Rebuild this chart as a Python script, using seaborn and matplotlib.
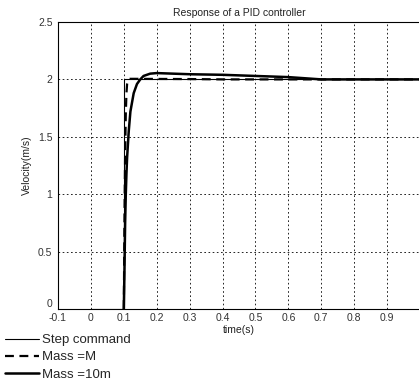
import matplotlib
matplotlib.use("Agg")
import matplotlib.pyplot as plt
import seaborn as sns
import pandas as pd

sns.set_theme(style="white")
plt.rcParams['font.family'] = ['Liberation Sans', 'DejaVu Sans']

# Step command
t_step = [0.0, 0.1, 0.1, 1.0]
y_step = [0.0, 0.0, 2.0, 2.0]

# Mass = M
t_m = [0.1, 0.102, 0.104, 0.106, 0.108, 0.11, 0.113, 0.117, 0.13, 0.2, 0.3, 0.4, 0.6, 1.0]
y_m = [0.0, 0.8, 1.35, 1.7, 1.88, 1.96, 1.995, 2.005, 2.005, 2.004, 2.003, 2.0, 2.0, 2.0]

# Mass = 10m
t_10 = [0.1, 0.102, 0.104, 0.106, 0.108, 0.11, 0.115, 0.12, 0.13, 0.14, 0.15, 0.16, 0.18, 0.2, 0.25, 0.3, 0.4, 0.5, 0.6, 0.65, 0.7, 1.0]
y_10 = [0.0, 0.35, 0.75, 1.0, 1.18, 1.32, 1.55, 1.72, 1.88, 1.96, 2.0, 2.03, 2.05, 2.055, 2.05, 2.045, 2.04, 2.03, 2.02, 2.01, 2.0, 2.0]

x_ticks = [-0.1, 0, 0.1, 0.2, 0.3, 0.4, 0.5, 0.6, 0.7, 0.8, 0.9]
x_labels = ["-0.1", "0", "0.1", "0.2", "0.3", "0.4", "0.5", "0.6", "0.7", "0.8", "0.9"]
y_ticks = [0, 0.5, 1, 1.5, 2, 2.5]
y_labels = ["0", "0.5", "1", "1.5", "2", "2.5"]

fig = plt.figure(figsize=(4.19, 3.89), dpi=100)
ax = fig.add_axes([58/419, 1-309/389, 362/419, (309-22)/389])

sns.lineplot(x=t_step, y=y_step, ax=ax, color="black", linewidth=0.8, sort=False,
             estimator=None, label="Step command")
sns.lineplot(x=t_m, y=y_m, ax=ax, color="black", linewidth=1.6, sort=False,
             estimator=None, label="Mass =M")
ax.lines[-1].set_linestyle((0, (4, 2.5)))
sns.lineplot(x=t_10, y=y_10, ax=ax, color="black", linewidth=1.8, sort=False,
             estimator=None, label="Mass =10m")

ax.set_xlim(-0.1, 1.0)
ax.set_ylim(0, 2.5)
ax.set_xticks(x_ticks)
ax.set_xticklabels(x_labels)
ax.set_yticks(y_ticks)
ax.set_yticklabels(y_labels)
ax.grid(True, color="black", linestyle=(0, (2, 3)), linewidth=0.6)
ax.tick_params(axis="both", labelsize=7.5, colors="#333333", length=0)
ax.tick_params(axis="x", pad=3)
ax.tick_params(axis="y", pad=4)
for lbl in ax.get_yticklabels():
    if lbl.get_text() == "0":
        lbl.set_verticalalignment("bottom")
for s in ["left", "bottom", "top"]:
    ax.spines[s].set_color("black")
    ax.spines[s].set_linewidth(0.8)
ax.spines["right"].set_visible(False)

ax.set_title("Response of a PID controller", fontsize=7.5, pad=4, color="#222222")
ax.set_xlabel("time(s)", fontsize=7.5, labelpad=1, color="#222222")
ax.set_ylabel("Velocity(m/s)", fontsize=7.5, labelpad=4, color="#222222")

handles, labels = ax.get_legend_handles_labels()
ax.get_legend().remove()
fig.legend(handles, labels, loc="upper left", bbox_to_anchor=(5/419, 1-334/389),
           frameon=False, fontsize=9.5, handlelength=2.6, handletextpad=0.2,
           labelspacing=0.38, borderaxespad=0.0, borderpad=0.0)

fig.savefig("out.png", dpi=100)
